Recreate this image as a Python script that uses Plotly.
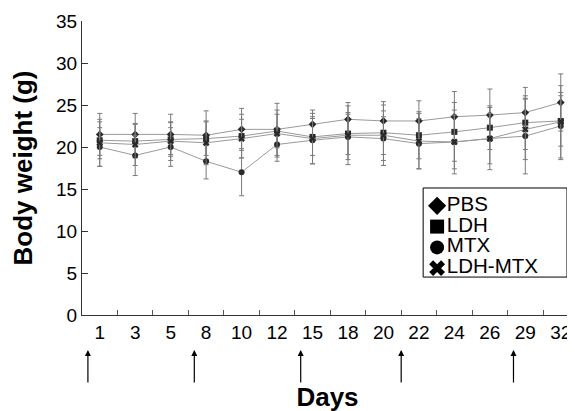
import numpy as np
import plotly.graph_objects as go

days = [1, 3, 5, 8, 10, 12, 15, 18, 20, 22, 24, 26, 29, 32]
day_labels = [str(d) for d in days]

pbs = [21.5, 21.5, 21.5, 21.4, 22.1, 22.1, 22.7, 23.3, 23.1, 23.1, 23.6, 23.8, 24.1, 25.3]
pbs_err = [2.5, 2.5, 2.4, 2.9, 2.5, 3.1, 1.7, 2.0, 2.3, 2.4, 3.0, 3.1, 3.0, 3.4]

ldh = [20.8, 20.7, 20.9, 21.0, 21.3, 21.9, 21.2, 21.6, 21.7, 21.4, 21.8, 22.3, 22.9, 23.1]
ldh_err = [2.2, 2.0, 2.0, 2.0, 2.6, 2.0, 2.2, 2.5, 2.6, 2.8, 3.5, 2.6, 3.2, 3.0]

mtx = [20.0, 19.0, 20.0, 18.3, 17.0, 20.3, 20.8, 21.2, 21.0, 20.4, 20.6, 21.0, 21.3, 22.5]
mtx_err = [2.3, 2.4, 2.3, 2.1, 2.8, 2.0, 2.8, 2.7, 2.6, 3.0, 3.8, 3.7, 4.5, 4.0]

ldh_mtx = [20.5, 20.3, 20.7, 20.5, 21.0, 21.6, 21.0, 21.4, 21.4, 20.7, 20.6, 21.0, 22.1, 23.0]
ldh_mtx_err = [2.8, 2.5, 2.3, 2.6, 2.3, 2.8, 3.0, 3.5, 3.6, 3.3, 3.2, 3.0, 3.6, 4.3]

series_names = ["PBS", "LDH", "MTX", "LDH-MTX"]
series_vals = [pbs, ldh, mtx, ldh_mtx]
series_errs = [pbs_err, ldh_err, mtx_err, ldh_mtx_err]
symbols = ["diamond", "square", "circle", "x"]

treatment_days = [0, 7, 14, 21, 28]

FONT = "Liberation Sans, Arial, sans-serif"

fig = go.Figure()

for name, vals, errs, sym in zip(series_names, series_vals, series_errs, symbols):
    fig.add_trace(go.Scatter(
        x=day_labels, y=vals, mode="lines+markers", name=name, showlegend=False,
        line=dict(color="#9a9a9a", width=1),
        marker=dict(symbol=sym, size=6, color="#2a2a2a", line=dict(width=0)),
        error_y=dict(type="data", array=errs, visible=True, color="#7a7a7a",
                     thickness=1, width=2.5),
    ))

# legend drawn in its own small axes box
LEG_X0, LEG_X1, LEG_Y0, LEG_Y1 = 0.6948, 0.9878, 0.129, 0.432
rows = np.linspace(0.80, 0.10, len(series_names))
fig.add_trace(go.Scatter(
    x=[0.097] * len(series_names), y=list(rows), xaxis="x2", yaxis="y2",
    mode="markers+text", text=series_names, textposition="middle right",
    textfont=dict(family=FONT, size=20.5, color="black"),
    marker=dict(symbol=symbols, size=14, color="black", line=dict(width=0)),
    showlegend=False, hoverinfo="skip", cliponaxis=False,
))
fig.add_shape(type="rect", xref="paper", yref="paper",
              x0=LEG_X0, x1=LEG_X1, y0=LEG_Y0, y1=LEG_Y1,
              line=dict(color="black", width=1), fillcolor="rgba(0,0,0,0)")

# treatment arrows: position along the category axis interpolated from days
idx = list(range(len(days)))
for d in treatment_days:
    xpos = float(np.interp(d, [-2] + days, [-1] + idx))
    fig.add_annotation(
        x=xpos, y=-0.119, xref="x", yref="paper", text="",
        showarrow=True, ax=0, ay=34, axref="pixel", ayref="pixel",
        arrowhead=2, arrowsize=1, arrowwidth=1.2, arrowcolor="black",
    )

fig.update_layout(
    width=575, height=411,
    margin=dict(l=74, r=10, t=13, b=104),
    plot_bgcolor="white", paper_bgcolor="white",
    font=dict(family=FONT, size=19, color="black"),
    showlegend=False,
    xaxis=dict(
        type="category", categoryorder="array", categoryarray=day_labels,
        range=[-0.5, 13.345], tickson="boundaries", automargin=False,
        ticks="inside", ticklen=5, tickcolor="#555", tickwidth=1,
        showline=True, linecolor="#333", linewidth=1,
        showgrid=False, zeroline=False,
        tickfont=dict(family=FONT, size=19, color="black"),
        title=dict(text="<b>Days</b>", font=dict(family=FONT, size=26, color="black"),
                   standoff=46),
    ),
    yaxis=dict(
        range=[0, 35], dtick=5, tick0=0, automargin=False,
        ticks="inside", ticklen=6, tickcolor="#333", tickwidth=1,
        showline=True, linecolor="#333", linewidth=1,
        showgrid=False, zeroline=False,
        tickfont=dict(family=FONT, size=19, color="black"),
        title=dict(text="<b>Body weight (g)</b>", font=dict(family=FONT, size=26, color="black"),
                   standoff=15),
    ),
    xaxis2=dict(domain=[LEG_X0, LEG_X1], range=[0, 1], anchor="y2", visible=False,
                fixedrange=True),
    yaxis2=dict(domain=[LEG_Y0, LEG_Y1], range=[0, 1], anchor="x2", visible=False,
                fixedrange=True),
)

fig.write_html("out.html")
